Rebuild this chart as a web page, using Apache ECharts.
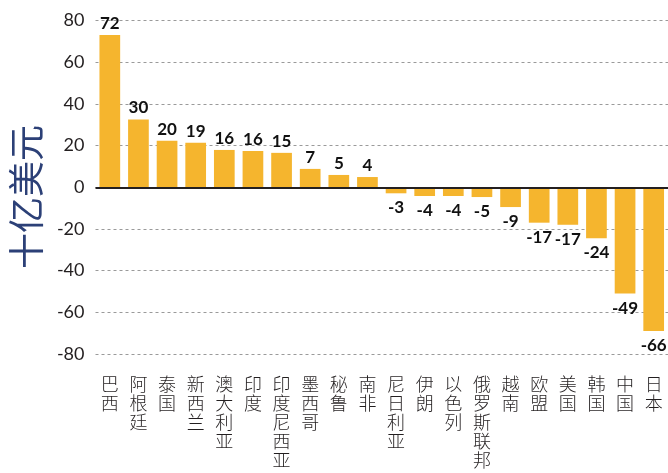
<!DOCTYPE html>
<html lang="zh-CN">
<head>
<meta charset="utf-8"/>
<title>十亿美元</title>
<script src="https://cdn.jsdelivr.net/npm/echarts@6/dist/echarts.min.js"></script>
<style>
  html, body { margin: 0; padding: 0; background: #fff; }
</style>
</head>
<body>
<div id="Echarts" style="width: 668px;height: 473px;"></div>
<script>
// 各国/地区
var countries = ['巴西', '阿根廷', '泰国', '新西兰', '澳大利亚', '印度', '印度尼西亚', '墨西哥', '秘鲁', '南非',
                 '尼日利亚', '伊朗', '以色列', '俄罗斯联邦', '越南', '欧盟', '美国', '韩国', '中国', '日本'];
// 柱高
var barValues = [73, 32.5, 22.3, 21.3, 17.9, 17.4, 16.5, 8.8, 5.9, 4.9,
                 -2.9, -4.2, -4.2, -4.7, -9.5, -17, -18, -24.5, -51, -69];
// 标注数字
var labelValues = [72, 30, 20, 19, 16, 16, 15, 7, 5, 4,
                   -3, -4, -4, -5, -9, -17, -17, -24, -49, -66];
var yTicks = [-80, -60, -40, -20, 0, 20, 40, 60, 80];

var myChart = echarts.init(document.getElementById('Echarts'));

var seriesData = [];
for (var i = 0; i < barValues.length; i++) {
  seriesData.push({
    value: barValues[i],
    label: {
      position: barValues[i] >= 0 ? 'top' : 'bottom',
      distance: barValues[i] >= 0 ? 3 : 6
    }
  });
}

myChart.setOption({
  animation: false,
  grid: {
    left: 95.5,
    top: 20.5,
    width: 575,
    height: 333.5,
    containLabel: false
  },
  graphic: [{
    type: 'text',
    x: 26,
    y: 197,
    rotation: Math.PI / 2,
    style: {
      text: '十亿美元',
      font: '36px "Noto Sans CJK SC"',
      fill: '#2c4077',
      align: 'center',
      verticalAlign: 'middle'
    }
  }],
  xAxis: {
    type: 'category',
    data: countries,
    position: 'bottom',
    axisLine: { show: false, onZero: false },
    axisTick: { show: false },
    axisLabel: {
      interval: 0,
      margin: 21,
      color: '#231f20',
      fontFamily: '"Noto Sans CJK SC"',
      fontWeight: 300,
      fontSize: 18,
      lineHeight: 19,
      formatter: function (v) { return v.split('').join('\n'); }
    }
  },
  yAxis: {
    type: 'value',
    min: yTicks[0],
    max: yTicks[yTicks.length - 1],
    interval: 20,
    axisLine: { show: false },
    axisTick: { show: false },
    axisLabel: {
      margin: 11,
      color: '#231f20',
      fontFamily: 'Lato',
      fontSize: 18
    },
    splitLine: {
      lineStyle: { color: '#9a9a9a', type: [3, 3], width: 1 }
    }
  },
  series: [{
    type: 'bar',
    data: seriesData,
    barWidth: 20.7,
    itemStyle: { color: '#f5b52e' },
    label: {
      show: true,
      color: '#111',
      fontFamily: 'Lato',
      fontWeight: 'bold',
      fontSize: 17,
      formatter: function (p) { return labelValues[p.dataIndex]; }
    },
    markLine: {
      silent: true,
      symbol: 'none',
      label: { show: false },
      lineStyle: { color: '#231f20', type: 'solid', width: 2 },
      data: [{ yAxis: 0 }]
    }
  }]
});
</script>
</body>
</html>
